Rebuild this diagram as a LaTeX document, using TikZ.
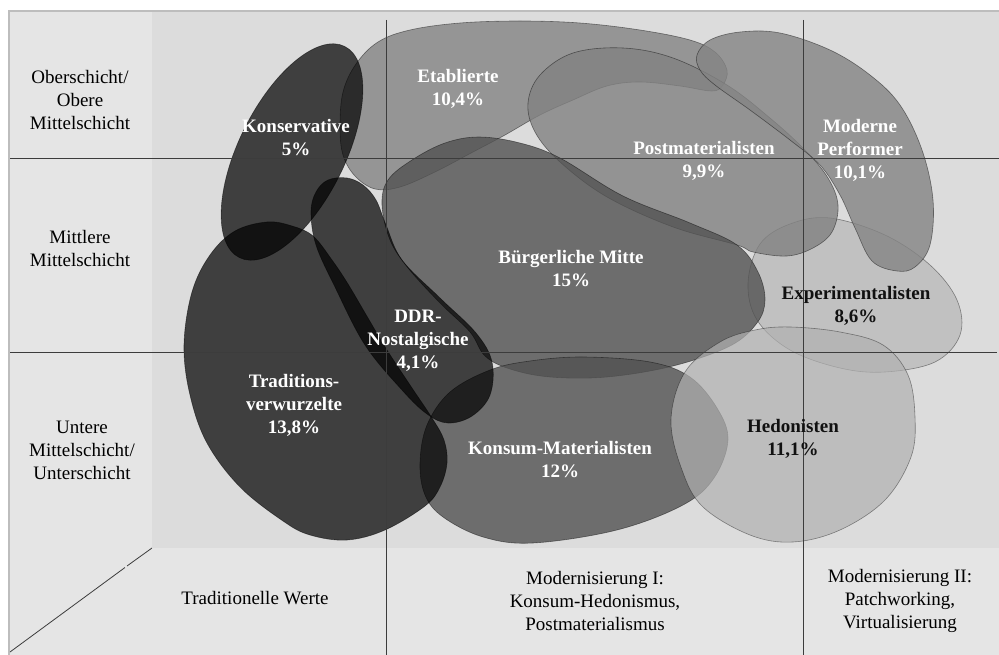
\documentclass[tikz,border=0pt]{standalone}
\usepackage{fontspec}
\setmainfont{Liberation Serif}
\definecolor{outerbg}{HTML}{E5E5E5}
\definecolor{plotbg}{HTML}{DCDCDC}
\definecolor{framecol}{HTML}{BDBDBD}
\definecolor{gridcol}{HTML}{3C3C3C}
\definecolor{cExp}{HTML}{B6B6B6}
\definecolor{cEtab}{HTML}{848484}
\definecolor{cPost}{HTML}{818181}
\definecolor{cMP}{HTML}{848484}
\definecolor{cBM}{HTML}{525252}
\definecolor{cKon}{HTML}{525252}
\definecolor{cHed}{HTML}{B1B1B1}
\definecolor{darktext}{HTML}{111111}
\begin{document}
\begin{tikzpicture}[x=1pt,y=-1pt,
  blob/.style={draw=black, draw opacity=0.45, line width=0.6pt, fill opacity=0.8},
  lightblob/.style={draw=black, draw opacity=0.4, line width=0.6pt, fill opacity=0.7},
  darkblob/.style={fill=black, fill opacity=0.71, draw=black, draw opacity=0.5, line width=0.6pt},
  gridline/.style={draw=gridcol, line width=1pt},
  rowlab/.style={font=\fontsize{19}{23}\selectfont, align=center, text=black, inner sep=0pt},
  blablab/.style={font=\bfseries\fontsize{19}{23}\selectfont, align=center, text=white, inner sep=0pt},
  blackblablab/.style={blablab, text=darktext}]
\useasboundingbox (0,0) rectangle (999,655);
\fill[white] (0,0) rectangle (999,655);
% backgrounds
\fill[outerbg] (8,10) rectangle (999,655);
\fill[plotbg] (152,10) rectangle (999,548);
\draw[framecol, line width=2pt] (9,655) -- (9,11) -- (999,11);
% blobs
\filldraw[lightblob, fill=cExp] plot[smooth cycle, tension=0.6] coordinates {(830,218) (790,224) (760,244) (748,283) (757,320) (790,350) (840,368) (885,372) (935,362) (960,335) (957,300) (930,265) (885,235)};
\filldraw[blob, fill=cEtab] plot[smooth cycle, tension=0.6] coordinates {(340,127) (343,92) (356,64) (378,42) (410,30) (460,23) (520,21) (580,23) (640,30) (690,40) (715,52) (727,70) (723,85) (712,91) (680,86) (640,82) (607,86) (573,100) (540,115) (505,135) (473,152) (435,172) (400,187) (375,189) (355,176) (343,155)};
\filldraw[blob, fill=cPost] plot[smooth cycle, tension=0.6] coordinates {(528,103) (540,75) (573,53) (623,48) (673,58) (727,85) (770,118) (805,150) (828,178) (838,205) (832,232) (813,248) (787,256) (753,252) (737,245) (673,227) (607,197) (560,162) (535,132)};
\filldraw[blob, fill=cMP] plot[smooth cycle, tension=0.6] coordinates {(697,55) (710,40) (740,32) (780,33) (830,50) (870,75) (900,105) (922,150) (933,200) (930,245) (915,267) (897,271) (872,261) (855,228) (840,195) (820,165) (790,140) (750,110) (715,85) (700,70)};
\filldraw[blob, fill=cBM] plot[smooth cycle, tension=0.6] coordinates {(382,205) (388,180) (412,160) (445,143) (479,137) (520,143) (560,158) (623,196) (690,223) (737,245) (758,272) (765,300) (757,323) (730,346) (673,366) (607,377) (550,377) (510,369) (485,356) (470,332) (440,303) (408,268) (390,240)};
\filldraw[blob, fill=cKon] plot[smooth cycle, tension=0.6] coordinates {(420,463) (427,425) (450,392) (490,370) (530,361) (583,357) (650,362) (690,377) (717,408) (728,440) (714,478) (683,505) (617,530) (533,543) (483,537) (443,517) (425,495)};
\filldraw[lightblob, fill=cHed] plot[smooth cycle, tension=0.6] coordinates {(790,327) (840,332) (883,345) (908,375) (915,417) (911,457) (885,500) (840,530) (793,542) (750,535) (703,507) (682,470) (671,420) (685,372) (720,342) (755,330)};
\filldraw[darkblob] (292,152) [rotate around={63.5:(292,152)}] ellipse [x radius=118, y radius=53];
\filldraw[darkblob] plot[smooth cycle, tension=0.6] coordinates {(267,222) (292,226) (313,236) (332,260) (348,284) (368,318) (387,350) (410,385) (432,418) (444,440) (447,463) (440,487) (425,506) (385,530) (347,540) (310,535) (283,521) (240,487) (207,443) (190,395) (184,345) (192,292) (210,255) (235,231)};
\filldraw[darkblob] plot[smooth cycle, tension=0.6] coordinates {(328,180) (347,178) (363,185) (376,200) (386,225) (402,260) (440,298) (476,333) (492,362) (490,395) (472,416) (448,423) (427,414) (402,390) (365,345) (335,287) (316,245) (311,212) (316,192)};
% grid lines
\draw[gridline] (10,159) -- (999,159);
\draw[gridline] (10,352) -- (997,352);
\draw[gridline] (386,20) -- (386,655);
\draw[gridline] (803,20) -- (803,655);
\draw[gridcol, line width=0.8pt] (152,548) -- (127,566);
\draw[gridcol, line width=0.8pt] (125,567.5) -- (10,652);
% row labels
\node[rowlab] (r1) at (80,100) {Oberschicht/\\Obere\\Mittelschicht};
\node[rowlab] (r2) at (80,249) {Mittlere\\Mittelschicht};
\node[rowlab] (r3) at (82,450) {Untere\\Mittelschicht/\\Unterschicht};
% column labels
\node[rowlab] (c1) at (255,598) {Traditionelle Werte};
\node[rowlab] (c2) at (595,601) {Modernisierung I:\\Konsum-Hedonismus,\\Postmaterialismus};
\node[rowlab] (c3) at (900,601) {Modernisierung II:\\Patchworking,\\Virtualisierung};
% blob labels
\node[blablab] (lkons) at (296,137.5) {Konservative\\5\%};
\node[blablab] (letab) at (458,89) {Etablierte\\10,4\%};
\node[blablab] (lpost) at (704,161) {Postmaterialisten\\9,9\%};
\node[blablab] (lmp) at (860,150) {Moderne\\Performer\\10,1\%};
\node[blablab] (lbm) at (571,268.5) {Bürgerliche Mitte\\15\%};
\node[blablab] (lddr) at (418,341) {DDR-\\Nostalgische\\4,1\%};
\node[blablab] (ltrad) at (294,405) {Traditions-\\verwurzelte\\13,8\%};
\node[blablab] (lkon) at (560,459.5) {Konsum-Materialisten\\12\%};
\node[blackblablab] (lexp) at (856,305.5) {Experimentalisten\\8,6\%};
\node[blackblablab] (lhed) at (793,439) {Hedonisten\\11,1\%};
\end{tikzpicture}
\end{document}
